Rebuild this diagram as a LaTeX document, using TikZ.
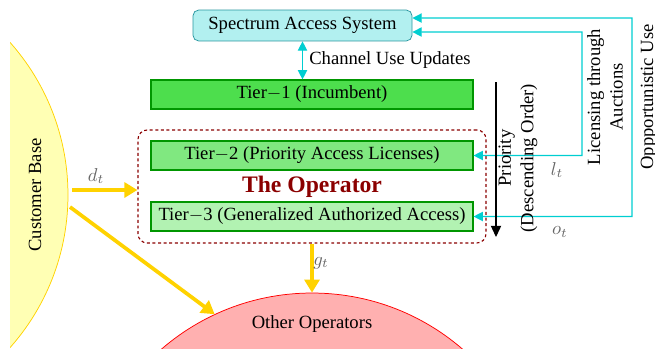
\documentclass[tikz,border=0pt]{standalone}
\usepackage{fontspec}
\setmainfont{Liberation Serif}
\usetikzlibrary{arrows.meta}
\definecolor{sascyan}{RGB}{178,240,240}
\definecolor{sasedge}{RGB}{40,150,160}
\definecolor{linkcyan}{RGB}{0,206,209}
\definecolor{tierone}{RGB}{77,222,77}
\definecolor{tiertwo}{RGB}{128,232,128}
\definecolor{tierthree}{RGB}{178,242,178}
\definecolor{tieredge}{RGB}{0,150,0}
\definecolor{opred}{RGB}{139,0,0}
\definecolor{flowgold}{RGB}{255,210,0}
\definecolor{custfill}{RGB}{255,255,180}
\definecolor{othfill}{RGB}{255,176,176}
\tikzset{
  tier/.style={draw=tieredge,line width=0.6pt,minimum width=172.9pt,minimum height=15.6pt,inner sep=0pt},
  link/.style={linkcyan,line width=0.6pt,arrows={Triangle[length=5pt,width=5pt]-Triangle[length=5pt,width=5pt]}},
  flow/.style={flowgold,line width=2pt,-{Triangle[length=7pt,width=8pt]}},
  mathlbl/.style={black!60,inner sep=0pt},
  market/.style={circle,minimum size=247pt,inner sep=0pt},
}
\def\mytier#1#2#3#4{
  % 1: name
  % 2: y
  % 3: fill
  % 4: text
  \node[tier,fill=#3] (#1) at (312,#2) {#4};
}

\begin{document}
\begin{tikzpicture}[x=0.537pt,y=-0.537pt]
    \useasboundingbox (0,0) rectangle (655,348);
    % customers and the other operators, cut at the page
    \begin{scope}
      \clip (10,0) rectangle (655,348);
      \node[market,draw=flowgold,fill=custfill] (cust) at (-162,195) {};
      \node[market,draw=red,fill=othfill] (others) at (312,523) {};
    \end{scope}
    \node[rotate=90] (custlbl) at (35,195) {Customer Base};
    \node (othlbl) at (312,324) {Other Operators};

    \node[draw=sasedge,fill=sascyan,rounded corners=3pt,minimum width=117.6pt,minimum height=16.6pt,inner sep=0pt] (sas) at (302.5,25.5) {Spectrum Access System};
    \node[draw=opred,line width=0.6pt,dash pattern=on 1.6pt off 1.4pt,rounded corners=5pt,minimum width=186.9pt,minimum height=60.7pt,text=opred,font=\fontsize{12.7}{15}\selectfont\bfseries] (op) at (312,186.5) {The Operator};

    \mytier{tier1}{94.5}{tierone}{Tier$-$1 (Incumbent)}
    \mytier{tier2}{155.5}{tiertwo}{Tier$-$2 (Priority Access Licenses)}
    \mytier{tier3}{216.5}{tierthree}{Tier$-$3 (Generalized Authorized Access)}

    \draw[link] (sas.south) -- (sas.south |- tier1.north) node[midway,right=0pt,black] {Channel Use Updates};

    % licensing and opportunistic use
    \coordinate (licturn) at (582,32);
    \coordinate (oppturn) at (632,18);
    \draw[link] ([yshift=-3.5pt]sas.east) -- (licturn) |- (tier2.east);
    \draw[link] ([yshift=4pt]sas.east) -- (oppturn) |- (tier3.east);
    \node[rotate=90,align=center] (liclbl) at (605,97) {Licensing through\\Auctions};
    \node[rotate=90] (opplbl) at (649,97) {Oppportunistic Use};
    \node[mathlbl] (lt) at (557,170) {$l_t$};
    \node[mathlbl] (ot) at (560,232) {$o_t$};

    \coordinate (priotop) at (496,82);
    \coordinate (priobot) at (496,237);
    \draw[line width=0.6pt,-{Triangle[length=6pt,width=5.5pt]}] (priotop) -- (priobot);
    \node[rotate=90,align=center] (priolbl) at (518,158) {Priority\\(Descending Order)};

    % demand flows
    \coordinate (dstart) at (72,190);
    \coordinate (gstart) at (70,207);
    \draw[flow] (dstart) -- (dstart -| op.west);
    \draw[flow] (gstart) -- (others.115);
    \draw[flow] (op.south) -- (others.north);
    \node[mathlbl] (dt) at (96,176) {$d_t$};
    \node[mathlbl] (gt) at (321,263) {$g_t$};
\end{tikzpicture}
\end{document}
